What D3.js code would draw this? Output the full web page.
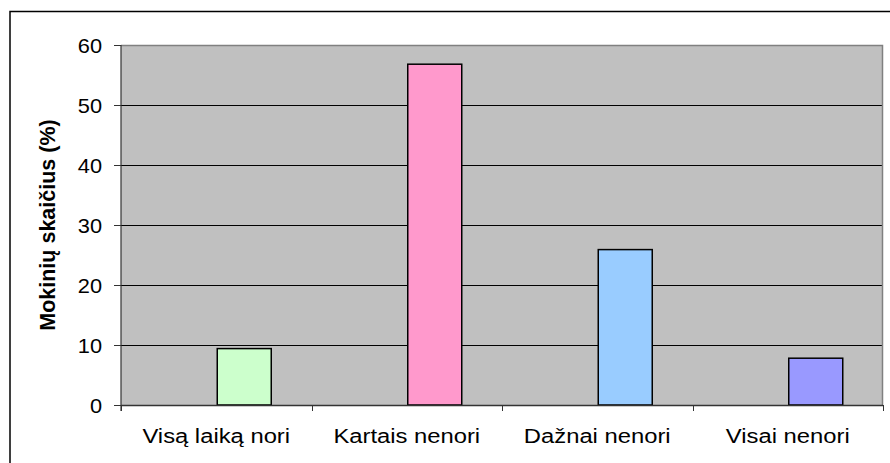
<!DOCTYPE html>
<html>
<head>
<meta charset="utf-8">
<script src="https://cdn.jsdelivr.net/npm/d3@7"></script>
<style>
  html, body { margin: 0; padding: 0; background: #fff; }
  svg { display: block; }
  text { font-family: "Liberation Sans", Arial, sans-serif; fill: #000; }
</style>
</head>
<body>
<svg id="chart" width="890" height="463"></svg>
<script>
const categories = ["Visą laiką nori", "Kartais nenori", "Dažnai nenori", "Visai nenori"];
const values = [9.4, 56.8, 25.9, 7.8];
const barColors = ["#CCFFCC", "#FF99CC", "#99CCFF", "#9999FF"];
const yTicks = [0, 10, 20, 30, 40, 50, 60];
const yTitle = "Mokinių skaičius (%)";

const W = 890, H = 463;
const plot = { left: 121, right: 883, top: 45, bottom: 405 };

const svg = d3.select("#chart");

// outer chart border (cropped at right and bottom)
svg.append("rect")
  .attr("x", 10).attr("y", 11.5)
  .attr("width", 920).attr("height", 520)
  .attr("fill", "#fff").attr("stroke", "#000").attr("stroke-width", 1.5);

const x = d3.scaleBand().domain(categories).range([plot.left, plot.right]).padding(0);
const slot = d3.scaleBand().domain([0, 1]).range([0, x.bandwidth()]).paddingInner(0).paddingOuter(0.764);
const y = d3.scaleLinear().domain([0, 60]).range([plot.bottom, plot.top]);

// plot background
svg.append("rect")
  .attr("x", plot.left).attr("y", plot.top)
  .attr("width", plot.right - plot.left).attr("height", plot.bottom - plot.top)
  .attr("fill", "#C0C0C0");

// gridlines
svg.append("g").selectAll("line")
  .data(yTicks.filter(d => d > 0 && d < 60))
  .join("line")
  .attr("x1", plot.left).attr("x2", plot.right)
  .attr("y1", d => Math.round(y(d)) + 0.5).attr("y2", d => Math.round(y(d)) + 0.5)
  .attr("stroke", "#000").attr("stroke-width", 1);

// plot border (top and right)
svg.append("path")
  .attr("d", `M${plot.left},${plot.top + 0.5}H${plot.right - 0.5}V${plot.bottom}`)
  .attr("fill", "none").attr("stroke", "#808080").attr("stroke-width", 1.5);

// bars
svg.append("g").selectAll("rect")
  .data(categories)
  .join("rect")
  .attr("x", d => x(d) + slot(1) + 1)
  .attr("width", slot.bandwidth())
  .attr("y", (d, i) => y(values[i]))
  .attr("height", (d, i) => y(0) - y(values[i]))
  .attr("fill", (d, i) => barColors[i])
  .attr("stroke", "#000").attr("stroke-width", 1.5);

// y axis
const yAxis = svg.append("g")
  .attr("transform", `translate(${plot.left},0)`)
  .call(d3.axisLeft(y).tickValues(yTicks).tickSize(7).tickPadding(0).tickFormat(d3.format("d")));
yAxis.select(".domain").attr("stroke", "#333").attr("stroke-width", 1.2)
  .attr("d", `M0,${plot.top}V${plot.bottom + 6}`);
yAxis.selectAll(".tick line").attr("stroke", "#333");
yAxis.selectAll(".tick text")
  .attr("font-size", 20)
  .attr("font-family", "Liberation Sans, Arial, sans-serif")
  .attr("x", -19)
  .attr("dy", "0.35em")
  .attr("transform", "scale(1.09,1)")
  .attr("text-anchor", "end")
  .each(function() {
    const t = d3.select(this);
    t.attr("x", -19 / 1.09);
  });

// x axis
const xAxis = svg.append("g")
  .attr("transform", `translate(0,${plot.bottom})`)
  .call(d3.axisBottom(x).tickSize(0).tickPadding(0));
xAxis.select(".domain").attr("stroke", "#333").attr("stroke-width", 1.5)
  .attr("d", `M${plot.left},0.5H${plot.right}`);
xAxis.selectAll(".tick text")
  .attr("font-size", 20)
  .attr("font-family", "Liberation Sans, Arial, sans-serif")
  .attr("y", 38).attr("dy", 0)
  .attr("transform", "scale(1.19,1)")
  .attr("x", 0);
xAxis.selectAll(".tick").each(function(d) {
  const cx = x(d) + x.bandwidth() / 2;
  d3.select(this).attr("transform", `translate(${cx},0)`);
});
// category boundary ticks
svg.append("g").selectAll("line")
  .data(categories.map(d => x(d)).concat([plot.right]))
  .join("line")
  .attr("x1", d => Math.round(d) + 0.5).attr("x2", d => Math.round(d) + 0.5)
  .attr("y1", plot.bottom).attr("y2", plot.bottom + 6)
  .attr("stroke", "#333").attr("stroke-width", 1);

// y title
svg.append("text")
  .attr("transform", `translate(55,${(plot.top + plot.bottom) / 2}) rotate(-90)`)
  .attr("text-anchor", "middle")
  .attr("font-size", 21.5)
  .attr("font-weight", "bold")
  .text(yTitle);
</script>
</body>
</html>
